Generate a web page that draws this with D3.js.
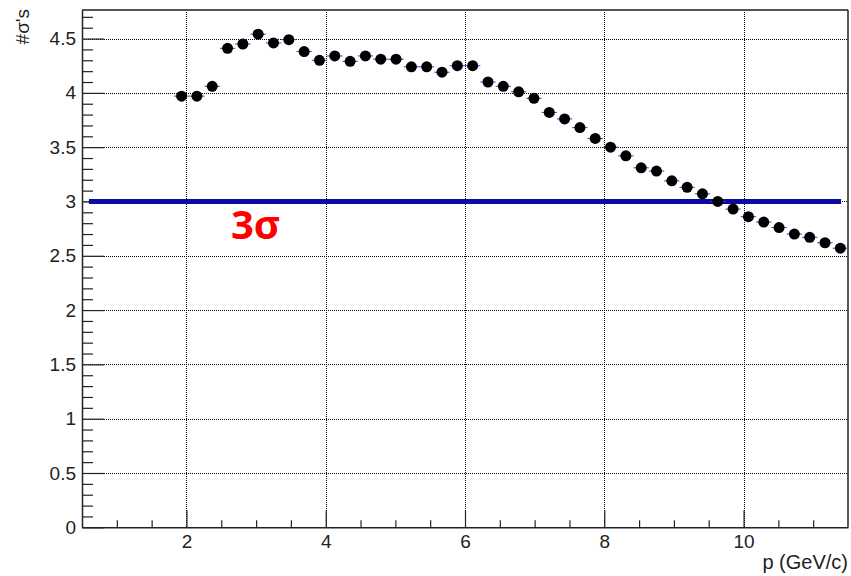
<!DOCTYPE html>
<html>
<head>
<meta charset="utf-8">
<script src="https://cdn.jsdelivr.net/npm/d3@7"></script>
<style>
  html, body { margin: 0; padding: 0; background: #fff; }
  svg { display: block; }
</style>
</head>
<body>
<svg id="chart" width="851" height="576"></svg>
<script>
// Momentum bin centres (GeV/c)
const pValues = [
  1.93, 2.15, 2.37, 2.59, 2.81, 3.03, 3.25, 3.47, 3.69, 3.91,
  4.13, 4.35, 4.57, 4.79, 5.01, 5.23, 5.45, 5.67, 5.89, 6.11,
  6.33, 6.55, 6.77, 6.99, 7.21, 7.43, 7.65, 7.87, 8.09, 8.31,
  8.53, 8.75, 8.97, 9.19, 9.41, 9.63, 9.85, 10.07, 10.29, 10.51,
  10.73, 10.95, 11.17, 11.39
];
// Separation in number of sigmas per bin
const nSigma = [
  3.97, 3.97, 4.06, 4.41, 4.45, 4.54, 4.46, 4.49, 4.38, 4.30,
  4.34, 4.29, 4.34, 4.31, 4.31, 4.24, 4.24, 4.19, 4.25, 4.25,
  4.10, 4.06, 4.01, 3.95, 3.82, 3.76, 3.68, 3.58, 3.50, 3.42,
  3.31, 3.28, 3.19, 3.13, 3.07, 3.00, 2.93, 2.86, 2.81, 2.76,
  2.70, 2.67, 2.62, 2.57
];
const binHalfWidth = 0.11;

// Axis ticks
const xMajorTicks = [2, 4, 6, 8, 10];
const xMinorTicks = [1, 1.5, 2.5, 3, 3.5, 4.5, 5, 5.5, 6.5, 7, 7.5, 8.5, 9, 9.5, 10.5, 11];
const yMajorTicks = [0, 0.5, 1, 1.5, 2, 2.5, 3, 3.5, 4, 4.5];
const yMinorTicks = d3.range(0, 48).map(i => i / 10).filter(v => Math.abs(v * 2 - Math.round(v * 2)) > 1e-6);
const thresholdLevel = 3;
const thresholdRange = [0.6, 11.4];

const svg = d3.select("#chart");
const padL = 82, padR = 848, padT = 10, padB = 527.3;

const x = d3.scaleLinear().domain([0.5, 11.5]).range([padL, padR]);
const y = d3.scaleLinear().domain([0, 4.763]).range([padB, padT]);

// Dotted grid at the major ticks
const grid = svg.append("g").attr("stroke", "#000").attr("stroke-width", 1)
  .attr("stroke-dasharray", "1,1").attr("shape-rendering", "crispEdges");
grid.selectAll("line.vx").data(xMajorTicks).join("line")
  .attr("x1", d => Math.round(x(d)) + 0.5).attr("x2", d => Math.round(x(d)) + 0.5)
  .attr("y1", padB).attr("y2", padT);
grid.selectAll("line.hy").data(yMajorTicks.filter(d => d > 0)).join("line")
  .attr("y1", d => Math.round(y(d)) + 0.5).attr("y2", d => Math.round(y(d)) + 0.5)
  .attr("x1", padL).attr("x2", padR);

// Frame
svg.append("line").attr("x1", padL).attr("x2", padR).attr("y1", padT).attr("y2", padT)
  .attr("stroke", "#555").attr("stroke-width", 2);
svg.append("line").attr("x1", padR).attr("x2", padR).attr("y1", padT).attr("y2", padB)
  .attr("stroke", "#222").attr("stroke-width", 1.5);

// X axis
const font = "\"Liberation Sans\", Arial, Helvetica, sans-serif";
svg.append("g").attr("transform", `translate(0,${padB})`)
  .call(d3.axisBottom(x).tickValues(xMajorTicks).tickSize(-17).tickPadding(7).tickSizeOuter(0)
    .tickFormat(d3.format("~g")));
svg.append("g").attr("transform", `translate(0,${padB})`)
  .call(d3.axisBottom(x).tickValues(xMinorTicks).tickSize(-7).tickSizeOuter(0).tickFormat(""))
  .call(g => g.select(".domain").remove());

// Y axis
svg.append("g").attr("transform", `translate(${padL},0)`)
  .call(d3.axisLeft(y).tickValues(yMajorTicks).tickSize(-22).tickPadding(6).tickSizeOuter(0)
    .tickFormat(d3.format("~g")));
svg.append("g").attr("transform", `translate(${padL},0)`)
  .call(d3.axisLeft(y).tickValues(yMinorTicks).tickSize(-11).tickSizeOuter(0).tickFormat(""))
  .call(g => g.select(".domain").remove());

svg.selectAll(".domain").attr("stroke", "#222").attr("stroke-width", 1.5);
svg.selectAll(".tick line").attr("stroke", "#222").attr("stroke-width", 1.2);
svg.selectAll(".tick text").attr("font-family", font).attr("font-size", 19).attr("fill", "#222");

// Axis titles
svg.append("text").attr("x", padR).attr("y", 569).attr("text-anchor", "end")
  .attr("font-family", font).attr("font-size", 20).attr("fill", "#222").text("p (GeV/c)");
svg.append("text").attr("transform", `translate(29,${padT - 1}) rotate(-90)`).attr("text-anchor", "end")
  .attr("font-family", font).attr("font-size", 19).attr("fill", "#222").text("#σ's");

// 3 sigma reference line
svg.append("line")
  .attr("x1", x(thresholdRange[0])).attr("x2", x(thresholdRange[1]))
  .attr("y1", y(thresholdLevel)).attr("y2", y(thresholdLevel))
  .attr("stroke", "#0a0aa0").attr("stroke-width", 5);

svg.append("text").attr("x", 231).attr("y", 239)
  .attr("font-family", "\"Open Sans\", \"Liberation Sans\", sans-serif").attr("font-weight", "bold").attr("font-size", 40)
  .attr("fill", "#ff0000").text("3σ");

// Data points with horizontal bin-width bars
const pts = pValues.map((p, i) => ({ p, v: nSigma[i] }));
svg.append("g").selectAll("line").data(pts).join("line")
  .attr("x1", d => x(d.p - binHalfWidth)).attr("x2", d => x(d.p + binHalfWidth))
  .attr("y1", d => y(d.v)).attr("y2", d => y(d.v))
  .attr("stroke", "#2a48c0").attr("stroke-width", 1);
svg.append("g").selectAll("circle").data(pts).join("circle")
  .attr("cx", d => x(d.p)).attr("cy", d => y(d.v)).attr("r", 5.5)
  .attr("fill", "#000");
</script>
</body>
</html>
